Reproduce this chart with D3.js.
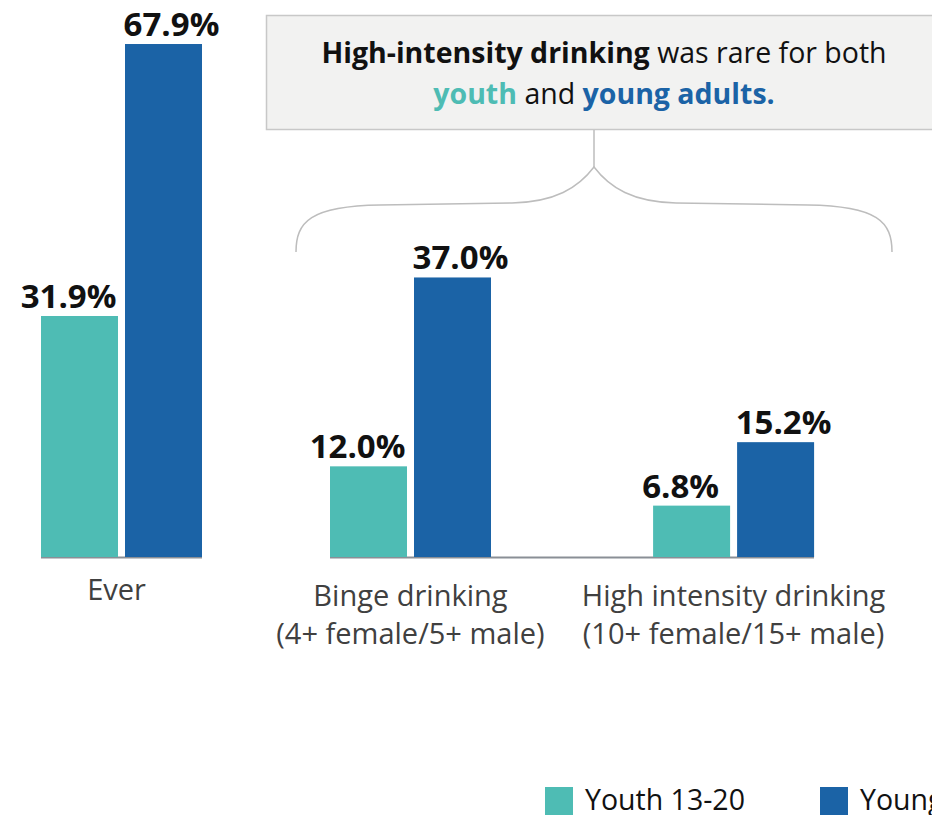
<!DOCTYPE html>
<html>
<head>
<meta charset="utf-8">
<script src="https://cdn.jsdelivr.net/npm/d3@7"></script>
<style>
  html, body { margin: 0; padding: 0; background: #ffffff; }
  svg { display: block; font-family: "Open Sans", "Noto Sans", sans-serif; }
</style>
</head>
<body>
<svg id="chart" width="932" height="815"></svg>
<script>
// ---------- data ----------
const categories = ["Ever", "Binge drinking", "High intensity drinking"];
const categorySubLabels = ["", "(4+ female/5+ male)", "(10+ female/15+ male)"];
const seriesNames = ["Youth 13-20", "Young adults 21-25"];
const youthValues = [31.9, 12.0, 6.8];
const youngAdultValues = [67.9, 37.0, 15.2];
const annotationLine1Bold = "High-intensity drinking";
const annotationLine1Rest = " was rare for both";
const annotationLine2 = ["youth", " and ", "young adults."];

// ---------- styles ----------
const colors = { youth: "#4ebcb4", young: "#1b63a6" };
const seriesColors = [colors.youth, colors.young];

const svg = d3.select("#chart");
const baseY = 557;

// y scale
const y = d3.scaleLinear().domain([0, 70]).range([baseY, baseY - 70 * 7.555]);

// two panels: "Ever" on its own, the others share an axis
const panelA = [categories[0]];
const panelB = [categories[1], categories[2]];
const xA = d3.scaleBand().domain(panelA).range([41, 202]).paddingInner(0).paddingOuter(0);
const xB = d3.scaleBand().domain(panelB).range([330, 814]).paddingInner(0.502).paddingOuter(0);
const xOf = c => panelA.includes(c) ? xA : xB;
const inner = d3.scaleBand().domain(seriesNames).range([0, 161]).paddingInner(0.0833).paddingOuter(0);

const rows = categories.map((c, i) => ({
  cat: c, sub: categorySubLabels[i],
  vals: [youthValues[i], youngAdultValues[i]]
}));

// axis lines (drawn below bars)
const axisG = svg.append("g");
[[xA, panelA], [xB, panelB]].forEach(([sc, dom]) => {
  const x0 = sc(dom[0]);
  const x1 = sc(dom[dom.length - 1]) + sc.bandwidth();
  axisG.append("line")
    .attr("x1", x0).attr("x2", x1)
    .attr("y1", baseY + 0.5).attr("y2", baseY + 0.5)
    .attr("stroke", "#8a8f96").attr("stroke-width", 2);
});

// bars
const groups = svg.selectAll("g.grp").data(rows).join("g")
  .attr("class", "grp")
  .attr("transform", d => `translate(${xOf(d.cat)(d.cat)},0)`);

groups.selectAll("rect").data(d => d.vals.map((v, i) => ({ v, s: seriesNames[i], i })))
  .join("rect")
  .attr("x", d => inner(d.s))
  .attr("width", inner.bandwidth())
  .attr("y", d => y(d.v))
  .attr("height", d => baseY - y(d.v))
  .attr("fill", d => seriesColors[d.i]);

// value labels
groups.selectAll("text.val").data(d => d.vals.map((v, i) => ({ v, s: seriesNames[i], i })))
  .join("text")
  .attr("class", "val")
  .attr("x", d => inner(d.s) + inner.bandwidth() / 2 + (d.i === 0 ? -11 : 8))
  .attr("y", d => y(d.v) - 8)
  .attr("text-anchor", "middle")
  .attr("font-size", 33)
  .attr("font-weight", 700)
  .attr("fill", "#111")
  .text(d => d.v.toFixed(1) + "%");

// category labels
groups.each(function (d) {
  const g = d3.select(this);
  const cx = xOf(d.cat).bandwidth() / 2;
  const t = g.append("text")
    .attr("text-anchor", "middle")
    .attr("font-size", 29)
    .attr("fill", "#404040");
  if (d.sub) {
    t.append("tspan").attr("x", cx).attr("y", 606).text(d.cat);
    t.append("tspan").attr("x", cx).attr("y", 644).text(d.sub);
  } else {
    t.append("tspan").attr("x", cx - 5).attr("y", 600).text(d.cat);
  }
});

// annotation box
svg.append("rect")
  .attr("x", 266.5).attr("y", 15.5)
  .attr("width", 700).attr("height", 114)
  .attr("fill", "#f2f2f1").attr("stroke", "#c8c8c8").attr("stroke-width", 1.5);

const ann = svg.append("text")
  .attr("x", 604).attr("y", 63)
  .attr("text-anchor", "middle")
  .attr("font-size", 28.5)
  .attr("fill", "#111");
ann.append("tspan").attr("font-weight", 700).text(annotationLine1Bold);
ann.append("tspan").text(annotationLine1Rest);

const ann2 = svg.append("text")
  .attr("x", 604).attr("y", 104)
  .attr("text-anchor", "middle")
  .attr("font-size", 28.5)
  .attr("fill", "#111");
ann2.append("tspan").attr("font-weight", 700).attr("fill", colors.youth).text(annotationLine2[0]);
ann2.append("tspan").text(annotationLine2[1]);
ann2.append("tspan").attr("font-weight", 700).attr("fill", colors.young).text(annotationLine2[2]);

// brace + connector
svg.append("line")
  .attr("x1", 594).attr("x2", 594).attr("y1", 130).attr("y2", 167)
  .attr("stroke", "#bdbdbd").attr("stroke-width", 1.5);
svg.append("path")
  .attr("d", "M296,252 C296,222 310,206 380,205 L512,203 C555,202 578,188 594,167 C610,188 633,202 676,203 L808,205 C878,206 892,222 892,252")
  .attr("fill", "none").attr("stroke", "#bdbdbd").attr("stroke-width", 1.5);

// legend
const legend = svg.append("g");
const legendX = [545, 820];
seriesNames.forEach((s, i) => {
  legend.append("rect")
    .attr("x", legendX[i]).attr("y", 787)
    .attr("width", 28).attr("height", 28)
    .attr("fill", seriesColors[i]);
  legend.append("text")
    .attr("x", legendX[i] + 40).attr("y", 810)
    .attr("font-size", 28.5)
    .attr("fill", "#111")
    .text(s);
});
</script>
</body>
</html>
